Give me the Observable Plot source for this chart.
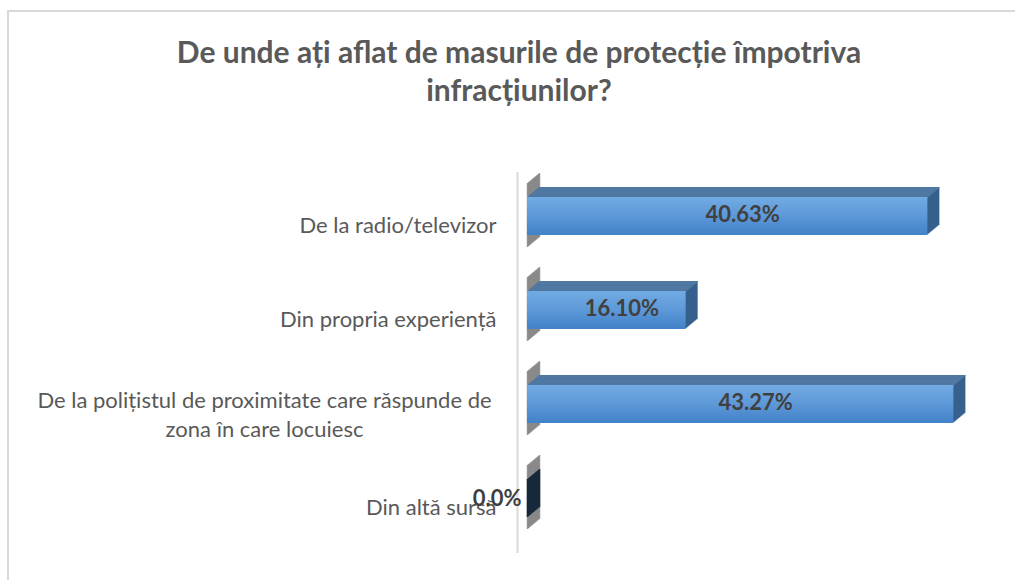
<!DOCTYPE html>
<html>
<head>
<meta charset="utf-8">
<script src="https://cdn.jsdelivr.net/npm/d3@7"></script>
<script src="https://cdn.jsdelivr.net/npm/@observablehq/plot@0.6"></script>
<style>
  html, body { margin: 0; padding: 0; background: #fff; }
  #wrap { position: relative; width: 1015px; height: 580px; overflow: hidden; font-family: Lato, "Open Sans", sans-serif; }
  #frame { position: absolute; left: 7px; top: 10px; width: 1030px; height: 600px; border-top: 2px solid #d9d9d9; border-left: 2px solid #d9d9d9; box-sizing: border-box; }
  #title { position: absolute; left: 9px; width: 1020px; top: 32px; text-align: center; font-weight: bold; font-size: 30px; line-height: 38px; color: #595959; }
  #chart { position: absolute; left: 0; top: 150px; }
</style>
</head>
<body>
<div id="wrap">
  <div id="frame"></div>
  <div id="title">De unde ați aflat de masurile de protecție împotriva<br>infracțiunilor?</div>
  <div id="chart"></div>
</div>
<script>
const categories = [
  "De la radio/televizor",
  "Din propria experiență",
  "De la polițistul de proximitate care răspunde de\nzona în care locuiesc",
  "Din altă sursă"
];
const values = [40.63, 16.10, 43.27, 0];
const valueLabels = ["40.63%", "16.10%", "43.27%", "0.0%"];

const data = categories.map((c, i) => ({cat: c, value: values[i], label: valueLabels[i]}));

const DEPTH = 12, RISE = 10, INSET = 28;
const offsets = d3.range(DEPTH, 0, -1);
const sideColor = "#36618d";
const topColor = "#5079a3";

const marks = [
  // axis line
  Plot.ruleX([0], {dx: -10, stroke: "#d9d9d9", strokeWidth: 2}),
  // blurred floor shadow at the base of each bar
  offsets.concat([0]).map(k => Plot.tickX(data, {x: 0, y: "cat", insetTop: INSET - 14, insetBottom: INSET - 12, stroke: "#5a5a5a", strokeOpacity: 0.6, strokeWidth: 1.5, dx: k, dy: -k * RISE / DEPTH, ariaLabel: "shadow"})),
  // zero-value bar: side face only
  offsets.concat([0]).map(k => Plot.tickX(data, {filter: d => d.value === 0, x: "value", y: "cat", insetTop: INSET, insetBottom: INSET, stroke: "#17283b", strokeWidth: 1.5, dx: k, dy: -k * RISE / DEPTH})),
  // extruded side
  offsets.map(k => Plot.barX(data, {x: "value", y: "cat", insetTop: INSET, insetBottom: INSET, fill: sideColor, dx: k, dy: -k * RISE / DEPTH})),
  // top face
  offsets.concat([0]).map(k => Plot.barX(data, {x: "value", y: "cat", insetTop: INSET, insetBottom: 94.25 - INSET - 1.6, fill: topColor, dx: k, dy: -k * RISE / DEPTH})),
  // front face
  Plot.barX(data, {x: "value", y: "cat", insetTop: INSET, insetBottom: INSET, fill: "url(#frontGrad)"}),
  // value labels
  Plot.text(data, {filter: d => d.value > 0, x: d => d.value / 2, y: "cat", text: "label", dx: 15, dy: -2, fontSize: 22, fontWeight: "bold", fill: "#404040"}),
  // category labels
  Plot.text(data, {filter: d => !d.cat.includes("\n"), x: 0, y: "cat", text: "cat", textAnchor: "end", dx: -31, dy: 9, fontSize: 22, fill: "#595959"}),
  Plot.text(data, {filter: d => d.cat.includes("\n"), x: 0, y: "cat", text: "cat", textAnchor: "middle", dx: -263, dy: 9, fontSize: 22, lineHeight: 1.32, fill: "#595959"}),
  Plot.text(data, {filter: d => d.value === 0, x: "value", y: "cat", text: "label", textAnchor: "end", dx: -6, dy: 0, fontSize: 22, fontWeight: "bold", fill: "#404040"})
];

const chart = Plot.plot({
  width: 1015,
  height: 430,
  marginLeft: 527,
  marginRight: 15,
  marginTop: 22,
  marginBottom: 27,
  style: {fontFamily: "Lato, 'Open Sans', sans-serif", background: "transparent", overflow: "visible"},
  x: {domain: [0, 48], axis: null},
  y: {domain: categories, range: [18, 395], padding: 0, axis: null},
  marks
});

const ns = "http://www.w3.org/2000/svg";
const defs = document.createElementNS(ns, "defs");
defs.innerHTML = `
  <linearGradient id="frontGrad" x1="0" y1="0" x2="0" y2="1">
    <stop offset="0" stop-color="#72abe3"/>
    <stop offset="0.5" stop-color="#5d98d8"/>
    <stop offset="1" stop-color="#4282c8"/>
  </linearGradient>
  <filter id="blur" x="-50%" y="-50%" width="200%" height="200%"><feGaussianBlur stdDeviation="1.6"/></filter>`;
chart.prepend(defs);
chart.querySelectorAll('g[aria-label="shadow"]').forEach(g => g.setAttribute("filter", "url(#blur)"));

document.getElementById("chart").appendChild(chart);
</script>
</body>
</html>
